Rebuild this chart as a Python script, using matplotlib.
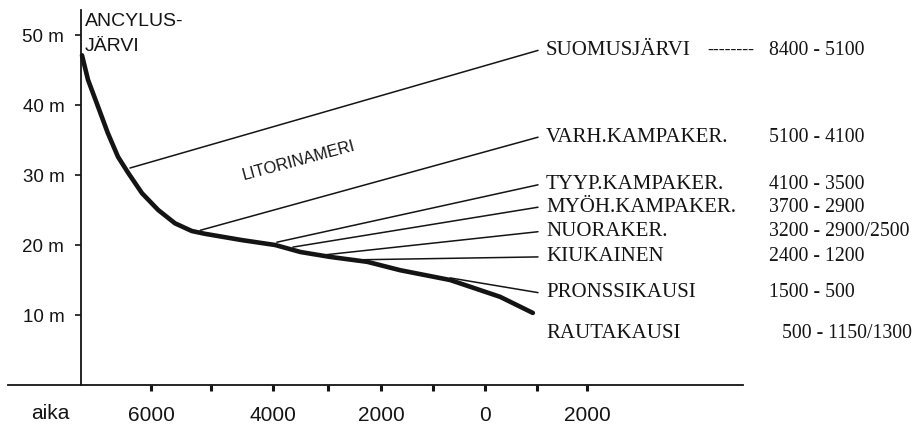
import numpy as np
import matplotlib
matplotlib.use("Agg")
import matplotlib.pyplot as plt
from matplotlib.ticker import FixedLocator, FixedFormatter

# shoreline curve: year (negative = BC) and height above sea (m)
curve_years = [-7150, -7050, -6880, -6720, -6550, -6380, -6150, -5880, -5600, -5320,
               -5100, -4500, -3960, -3500, -2960, -2260, -1630, -670, 290, 920]
curve_height = [47.1, 43.6, 39.7, 36.0, 32.6, 30.3, 27.4, 25.0, 23.1, 22.0,
                21.6, 20.7, 20.0, 19.0, 18.3, 17.6, 16.4, 15.0, 12.6, 10.3]

# periods, the point on the curve where each branch starts, and label heights
periods = ["SUOMUSJÄRVI", "VARH.KAMPAKER.", "TYYP.KAMPAKER.", "MYÖH.KAMPAKER.",
           "NUORAKER.", "KIUKAINEN", "PRONSSIKAUSI", "RAUTAKAUSI"]
ranges = ["8400 - 5100", "5100 - 4100", "4100 - 3500", "3700 - 2900",
          "3200 - 2900/2500", "2400 - 1200", "1500 - 500", "500 - 1150/1300"]
branch_year = [-6350, -5180, -3930, -3640, -3050, -2340, -670]
branch_height = [31.0, 22.1, 20.4, 19.7, 18.6, 17.9, 15.3]
label_height = [47.8, 35.4, 28.6, 25.4, 21.9, 18.3, 13.2, 7.4]

x_major = [-6000, -4000, -2000, 0, 2000]
x_major_labels = ["6000", "4000", "2000", "0", "2000"]
x_minor = [-5000, -3000, -1000, 1000]
y_ticks = [10, 20, 30, 40, 50]
y_labels = ["10 m", "20 m", "30 m", "40 m", "50 m"]

# the drawn time axis is not quite even: spacing of the printed ticks
scale_years = [-10000, -6000, -5000, -4000, -3000, -2000, -1000, 0, 1000, 2000, 10000]
scale_pos = [-0.89, 1.51, 2.11, 2.73, 3.28, 3.81, 4.33, 4.85, 5.37, 5.87, 9.87]


def fwd(x):
    return np.interp(x, scale_years, scale_pos)


def inv(p):
    return np.interp(p, scale_pos, scale_years)


ink = "#141414"
sans = ["Liberation Sans", "DejaVu Sans"]
serif = ["Liberation Serif", "DejaVu Serif"]

fig = plt.figure(figsize=(9.15, 4.32), dpi=100)
ax = fig.add_axes([0, 0, 1, 1])
ax.set_xscale("function", functions=(fwd, inv))
ax.set_xlim(inv(0.0), inv(9.15))
ax.set_ylim(-6.71, 55.0)

axis_x = inv(0.81)
ax.spines["left"].set_position(("data", axis_x))
ax.spines["bottom"].set_position(("data", 0))
ax.spines["left"].set_bounds(0, 53.6)
ax.spines["bottom"].set_bounds(inv(0.08), inv(7.43))
for s in ["top", "right"]:
    ax.spines[s].set_visible(False)
for s in ["left", "bottom"]:
    ax.spines[s].set_color(ink)
    ax.spines[s].set_linewidth(1.3)

ax.xaxis.set_major_locator(FixedLocator(x_major))
ax.xaxis.set_major_formatter(FixedFormatter(x_major_labels))
ax.xaxis.set_minor_locator(FixedLocator(x_minor))
ax.tick_params(axis="x", which="both", direction="out", length=4, width=2.2,
               colors=ink, pad=11, labelsize=15)
ax.yaxis.set_major_locator(FixedLocator(y_ticks))
ax.yaxis.set_major_formatter(FixedFormatter(y_labels))
ax.tick_params(axis="y", direction="out", length=4, width=1.2, colors=ink,
               pad=8, labelsize=13.5)
for t in ax.get_xticklabels() + ax.get_yticklabels():
    t.set_family(sans)

# branch lines from the curve to the period labels
label_x = inv(5.46)
for bx, by, ly in zip(branch_year, branch_height, label_height):
    ax.plot([bx, inv(5.38)], [by, ly], color=ink, lw=1.1, solid_capstyle="round")

ax.plot(curve_years, curve_height, color=ink, lw=3.3, solid_capstyle="round",
        solid_joinstyle="round")

for i, (name, rng, ly) in enumerate(zip(periods, ranges, label_height)):
    ax.text(label_x, ly, name, family=serif, fontsize=15, color=ink,
            ha="left", va="center")
    rx = inv(7.82) if i == len(periods) - 1 else inv(7.69)
    ax.text(rx, ly, rng, family=serif, fontsize=14.2, color=ink, ha="left", va="center")
ax.text(inv(7.07), label_height[0], "--------", family=serif, fontsize=13,
        color=ink, ha="left", va="center")

ax.text(inv(0.85), 53.1, "ANCYLUS-\nJÄRVI", family=sans, fontsize=14, color=ink,
        ha="left", va="top", linespacing=1.6)
ax.text(inv(2.99), 32.1, "LITORINAMERI", family=sans, fontsize=11.8, color=ink,
        ha="center", va="center", rotation=15, rotation_mode="anchor")
ax.text(inv(0.50), -4.1, "aika", family=sans, fontsize=15, color=ink,
        ha="center", va="center")

fig.savefig("out.png", dpi=100)
